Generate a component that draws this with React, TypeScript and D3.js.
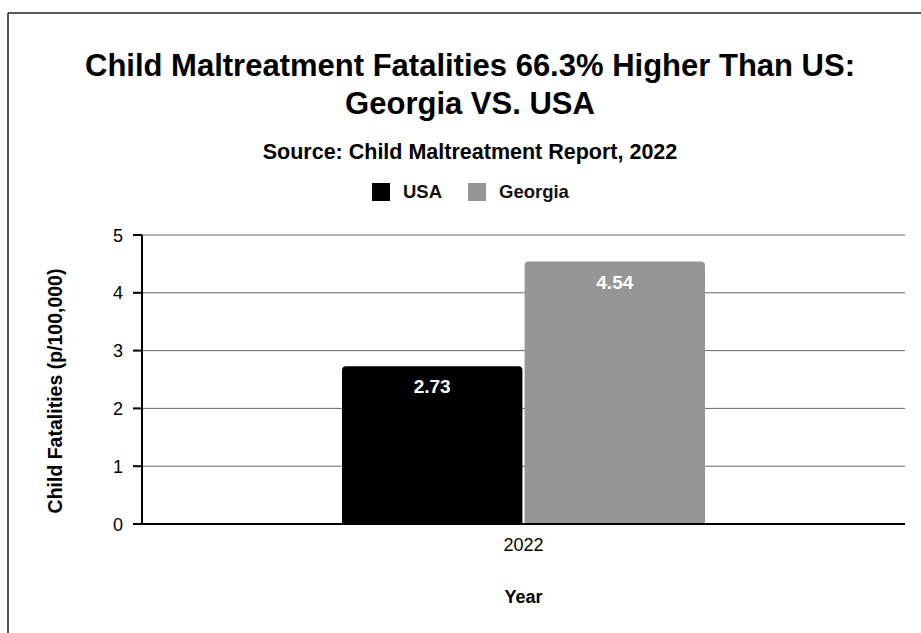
import React from "react";
import * as d3 from "d3";

const categories: string[] = ["2022"];
const seriesNames: string[] = ["USA", "Georgia"];
const usaValues: number[] = [2.73];
const georgiaValues: number[] = [4.54];
const seriesColors: string[] = ["#000000", "#969696"];
const yTicks: number[] = [0, 1, 2, 3, 4, 5];
const titleLines: string[] = [
  "Child Maltreatment Fatalities 66.3% Higher Than US:",
  "Georgia VS. USA",
];
const subtitle = "Source: Child Maltreatment Report, 2022";
const xAxisTitle = "Year";
const yAxisTitle = "Child Fatalities (p/100,000)";

const W = 921;
const H = 633;
const FONT = "'Liberation Sans', Arial, Helvetica, sans-serif";

const plot = { left: 142, right: 905, top: 235, bottom: 524 };
const CENTER_X = 470;

function topRoundedBar(x: number, y: number, w: number, h: number, r: number): string {
  const rr = Math.min(r, w / 2, h);
  return [
    `M${x},${y + h}`,
    `L${x},${y + rr}`,
    `Q${x},${y} ${x + rr},${y}`,
    `L${x + w - rr},${y}`,
    `Q${x + w},${y} ${x + w},${y + rr}`,
    `L${x + w},${y + h}`,
    "Z",
  ].join(" ");
}

export default function App() {
  const seriesValues = [usaValues, georgiaValues];

  const x0 = d3
    .scaleBand<string>()
    .domain(categories)
    .range([plot.left, plot.right])
    .paddingInner(0)
    .paddingOuter(0.551);

  const x1 = d3
    .scaleBand<string>()
    .domain(seriesNames)
    .range([0, x0.bandwidth()])
    .paddingInner(0.012)
    .paddingOuter(0);

  const y = d3.scaleLinear().domain([0, 5]).range([plot.bottom, plot.top]);

  const legendItems = [
    { name: seriesNames[0], color: seriesColors[0], x: 372 },
    { name: seriesNames[1], color: seriesColors[1], x: 468 },
  ];

  return (
    <svg
      width={W}
      height={H}
      style={{ position: "absolute", left: 0, top: 0, background: "#fff" }}
      fontFamily={FONT}
    >
      <rect x={0} y={0} width={W} height={H} fill="#fff" />
      {/* border (scanned page frame) */}
      <line x1={8} y1={13} x2={W} y2={13} stroke="#222" strokeWidth={1.5} />
      <line x1={8} y1={13} x2={8} y2={H} stroke="#222" strokeWidth={1.5} />

      {/* titles */}
      {titleLines.map((t, i) => (
        <text
          key={t}
          x={CENTER_X}
          y={76 + i * 38}
          textAnchor="middle"
          fontSize={31}
          fontWeight="bold"
          fill="#000"
        >
          {t}
        </text>
      ))}
      <text x={CENTER_X} y={159} textAnchor="middle" fontSize={21.5} fontWeight="bold" fill="#000">
        {subtitle}
      </text>

      {/* legend */}
      {legendItems.map((it) => (
        <g key={it.name}>
          <rect x={it.x} y={183} width={18} height={18} fill={it.color} />
          <text x={it.x + 31} y={198} fontSize={18.5} fontWeight="bold" fill="#111">
            {it.name}
          </text>
        </g>
      ))}

      {/* gridlines */}
      {yTicks.map((t) => (
        <line
          key={"g" + t}
          x1={plot.left}
          x2={plot.right}
          y1={y(t)}
          y2={y(t)}
          stroke={t === 0 ? "#000" : "#666"}
          strokeWidth={t === 0 ? 2 : 1}
        />
      ))}

      {/* bars */}
      {categories.map((c, ci) => (
        <g key={c}>
          {seriesNames.map((s, si) => {
            const v = seriesValues[si][ci];
            const bx = (x0(c) ?? 0) + (x1(s) ?? 0);
            const bw = x1.bandwidth();
            const by = y(v);
            const bh = y(0) - by;
            return (
              <g key={s}>
                <path d={topRoundedBar(bx, by, bw, bh, 4)} fill={seriesColors[si]} />
                <text
                  x={bx + bw / 2}
                  y={by + 27}
                  textAnchor="middle"
                  fontSize={19}
                  fontWeight="bold"
                  fill="#fff"
                >
                  {v.toFixed(2)}
                </text>
              </g>
            );
          })}
        </g>
      ))}

      {/* y axis */}
      <line x1={plot.left} x2={plot.left} y1={plot.top} y2={plot.bottom} stroke="#000" strokeWidth={2} />
      {yTicks.map((t) => (
        <g key={"t" + t}>
          <line x1={plot.left - 9} x2={plot.left} y1={y(t)} y2={y(t)} stroke="#000" strokeWidth={2} />
          <text x={plot.left - 19} y={y(t) + 6.5} textAnchor="end" fontSize={18} fill="#000">
            {t}
          </text>
        </g>
      ))}
      <line x1={plot.left - 9} x2={plot.right} y1={plot.bottom} y2={plot.bottom} stroke="#000" strokeWidth={2} />

      {/* x axis labels */}
      {categories.map((c) => (
        <text
          key={"x" + c}
          x={(x0(c) ?? 0) + x0.bandwidth() / 2}
          y={551}
          textAnchor="middle"
          fontSize={18}
          fill="#000"
        >
          {c}
        </text>
      ))}
      <text
        x={(plot.left + plot.right) / 2}
        y={603}
        textAnchor="middle"
        fontSize={18}
        fontWeight="bold"
        fill="#000"
      >
        {xAxisTitle}
      </text>
      <text
        transform={`translate(62, 391) rotate(-90)`}
        textAnchor="middle"
        fontSize={19.5}
        fontWeight="bold"
        fill="#000"
      >
        {yAxisTitle}
      </text>
    </svg>
  );
}
